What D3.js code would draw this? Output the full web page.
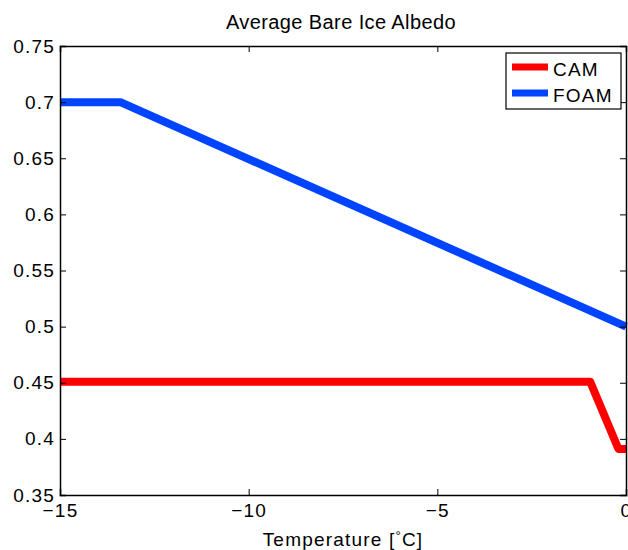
<!DOCTYPE html>
<html>
<head>
<meta charset="utf-8">
<script src="https://cdn.jsdelivr.net/npm/d3@7"></script>
<style>
  body { margin: 0; background: #fff; }
  text { font-family: "Liberation Sans", Arial, sans-serif; fill: #000; }
</style>
</head>
<body>
<svg width="628" height="550"></svg>
<script>
// data
const camTemp = [-15, -0.95, -0.2, 0]
const camAlbedo = [0.451, 0.451, 0.391, 0.391]
const foamTemp = [-15, -13.4, 0]
const foamAlbedo = [0.7, 0.7, 0.5]
const xTicks = [-15, -10, -5, 0]
const yTicks = [0.35, 0.4, 0.45, 0.5, 0.55, 0.6, 0.65, 0.7, 0.75]
const seriesNames = ["CAM", "FOAM"]
const seriesColors = ["#ff0000", "#0044ff"]

const svg = d3.select("svg")
const plotLeft = 60, plotRight = 626, plotTop = 46, plotBottom = 495

const x = d3.scaleLinear().domain([-15, 0]).range([plotLeft, plotRight])
const y = d3.scaleLinear().domain([0.35, 0.75]).range([plotBottom, plotTop])

const fmtX = d => (d < 0 ? "\u2212" + Math.abs(d) : String(d))
const fmtY = d => String(+d.toFixed(2))

// lines first, axes drawn on top
const line = d3.line().x(d => x(d[0])).y(d => y(d[1]))
const series = [
  d3.zip(camTemp, camAlbedo),
  d3.zip(foamTemp, foamAlbedo)
]
svg.selectAll("path.series")
  .data(series)
  .enter()
  .append("path")
  .attr("class", "series")
  .attr("d", line)
  .attr("fill", "none")
  .attr("stroke", (d, i) => seriesColors[i])
  .attr("stroke-width", 8)
  .attr("stroke-linejoin", "round")

// axes, ticks pointing inward like matlab
const tickLen = 6
svg.append("g").attr("transform", `translate(0,${plotBottom})`)
  .call(d3.axisBottom(x).tickValues(xTicks).tickSize(-tickLen).tickPadding(9).tickFormat(fmtX))
svg.append("g").attr("transform", `translate(0,${plotTop})`)
  .call(d3.axisTop(x).tickValues(xTicks).tickSize(-tickLen).tickFormat(""))
svg.append("g").attr("transform", `translate(${plotLeft},0)`)
  .call(d3.axisLeft(y).tickValues(yTicks).tickSize(-tickLen).tickPadding(5).tickFormat(fmtY))
svg.append("g").attr("transform", `translate(${plotRight},0)`)
  .call(d3.axisRight(y).tickValues(yTicks).tickSize(-tickLen).tickFormat(""))

svg.selectAll(".domain").attr("stroke", "#000").attr("stroke-width", 1.5)
svg.selectAll(".tick line").attr("stroke", "#000")
svg.selectAll(".tick text")
  .style("font-size", "19px")
  .style("letter-spacing", "1.2px")
  .attr("fill", "#000")

// title and axis label
svg.append("text")
  .attr("x", 341).attr("y", 29)
  .attr("text-anchor", "middle")
  .style("font-size", "20px")
  .style("letter-spacing", "0.4px")
  .text("Average Bare Ice Albedo")

const xl = svg.append("text")
  .attr("x", 343).attr("y", 546)
  .attr("text-anchor", "middle")
  .style("font-size", "19px")
  .style("letter-spacing", "1.2px")
xl.append("tspan").text("Temperature [")
xl.append("tspan").text("\u00b0").style("font-size", "13px").attr("dy", -6)
xl.append("tspan").text("C]").attr("dy", 6)

// legend
const lg = svg.append("g")
lg.append("rect")
  .attr("x", 506).attr("y", 53).attr("width", 115).attr("height", 56)
  .attr("fill", "#fff").attr("stroke", "#000").attr("stroke-width", 1.2)
seriesNames.forEach((name, i) => {
  const ly = 67 + i * 26
  lg.append("line")
    .attr("x1", 512).attr("x2", 548).attr("y1", ly).attr("y2", ly)
    .attr("stroke", seriesColors[i]).attr("stroke-width", 7)
  lg.append("text")
    .attr("x", 553).attr("y", ly + 9)
    .style("font-size", "19px")
    .style("letter-spacing", "1.2px")
    .text(name)
})
</script>
</body>
</html>
